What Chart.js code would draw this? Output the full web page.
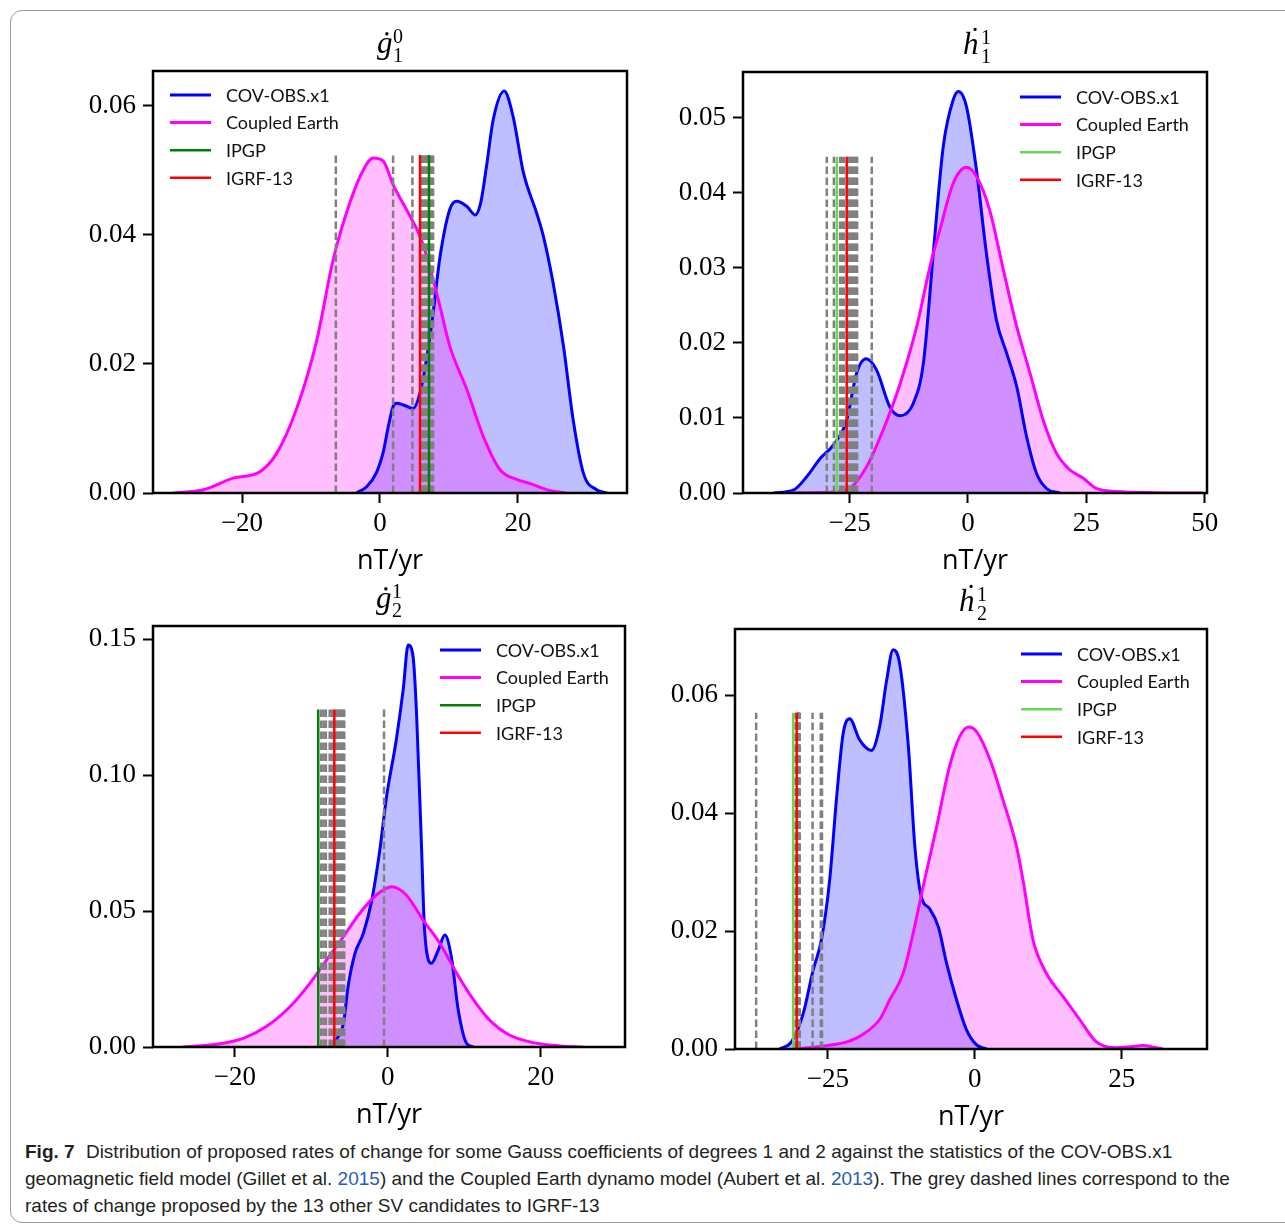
<!DOCTYPE html>
<html>
<head>
<meta charset="utf-8">
<script src="https://cdn.jsdelivr.net/npm/chart.js@4.4.1/dist/chart.umd.min.js"></script>
<style>
html,body{margin:0;padding:0;background:#fff;}
body{width:1285px;height:1225px;position:relative;overflow:hidden;}
.frame{position:absolute;left:10px;top:10px;width:1300px;height:1211px;border:1px solid #9a9a9a;border-radius:12px;}
canvas{position:absolute;}
.cap{position:absolute;left:25px;top:1138px;font-family:"Liberation Sans Narrow","Liberation Sans",sans-serif;font-size:19px;line-height:27px;color:#231f20;white-space:nowrap;}
.cap b{font-weight:bold;margin-right:6px;}
.cap a{color:#2a5db0;text-decoration:none;}
</style>
</head>
<body>
<div class="frame"></div>
<canvas id="c1" width="597" height="560" style="left:60px;top:20px"></canvas>
<canvas id="c2" width="587" height="559" style="left:650px;top:21px"></canvas>
<canvas id="c3" width="595" height="559" style="left:60px;top:575px"></canvas>
<canvas id="c4" width="595" height="558" style="left:642px;top:578px"></canvas>
<div class="cap">
<div><b>Fig. 7</b> Distribution of proposed rates of change for some Gauss coefficients of degrees 1 and 2 against the statistics of the COV-OBS.x1</div>
<div>geomagnetic field model (Gillet et al. <a>2015</a>) and the Coupled Earth dynamo model (Aubert et al. <a>2013</a>). The grey dashed lines correspond to the</div>
<div>rates of change proposed by the 13 other SV candidates to IGRF-13</div>
</div>
<script>
// legend labels
const legendLabels = ['COV-OBS.x1', 'Coupled Earth', 'IPGP', 'IGRF-13'];

// ---- g1^0 ----
const g10CovX = [-3.4, -1.9, -0.5, 0.5, 1.2, 1.9, 2.4, 3.5, 4.8, 5.8, 6.8, 7.7, 8.7, 10.1, 11.1, 12.6, 13.8, 14.6, 15.5, 16.4, 18, 19.3, 20.8, 22.7, 23.7, 25.1, 26.6, 28, 29.5, 31.4, 32.9];
const g10Cov  = [0, 0.001, 0.0032, 0.0065, 0.0103, 0.0134, 0.0139, 0.0136, 0.0131, 0.0155, 0.0211, 0.0279, 0.0366, 0.0439, 0.0452, 0.0444, 0.0431, 0.045, 0.0511, 0.0578, 0.0623, 0.0583, 0.0496, 0.0434, 0.0397, 0.0325, 0.0227, 0.0113, 0.003, 0.0005, 0];
const g10CplX = [-30, -25.6, -21.3, -17.4, -15, -12.1, -9.2, -6.8, -4.3, -2.4, -1.0, 0.5, 1.9, 4.3, 5.8, 6.8, 8.7, 10.1, 12.6, 15, 17.4, 19.8, 21.7, 24.6, 27];
const g10Cpl  = [0, 0.0005, 0.0023, 0.0033, 0.0061, 0.013, 0.0235, 0.0361, 0.0452, 0.0501, 0.0519, 0.0514, 0.0478, 0.043, 0.0398, 0.0366, 0.0289, 0.0228, 0.016, 0.0087, 0.0036, 0.0021, 0.0015, 0.0004, 0];
const g10Others = [-6.4, 1.9, 4.7, 5.9, 6.1, 6.3, 6.5, 6.6, 6.8, 7.0, 7.3, 7.5, 7.7];
const g10Ipgp = 7.1;
const g10Igrf = 5.8;
const g10LineTop = 0.0524;
const g10XTicks = [-20, 0, 20];
const g10YTicks = [0, 0.02, 0.04, 0.06];

// ---- h1^1 ----
const h11CovX = [-41, -36.8, -34, -31.2, -28.4, -25.6, -23.5, -21.5, -19.3, -16.5, -14.3, -11.5, -9.4, -7.3, -5.2, -3.1, -2.0, -0.3, 1.8, 3.9, 6.0, 8.2, 10.3, 12.4, 14.5, 16.6, 19.4];
const h11Cov  = [0, 0.0004, 0.0022, 0.0046, 0.0064, 0.0097, 0.016, 0.0179, 0.0164, 0.0115, 0.0103, 0.012, 0.0173, 0.032, 0.0462, 0.0524, 0.0535, 0.0515, 0.0431, 0.032, 0.0231, 0.0186, 0.0142, 0.0075, 0.0026, 0.0006, 0];
const h11CplX = [-37.5, -30.5, -25.6, -21.4, -17.9, -14.3, -10.8, -8.0, -5.9, -3.1, -0.3, 1.8, 4.6, 7.5, 10.3, 13.1, 15.9, 18.7, 21.5, 24.3, 27.1, 31.4, 39.8, 49.6];
const h11Cpl  = [0, 0.00005, 0.0004, 0.0035, 0.0084, 0.0146, 0.0222, 0.0302, 0.0351, 0.0413, 0.0434, 0.0422, 0.0377, 0.0297, 0.0222, 0.016, 0.0097, 0.0053, 0.0031, 0.002, 0.0006, 0.0002, 0.00005, 0];
const h11Others = [-29.8, -28.3, -27.0, -26.6, -26.2, -25.3, -25.0, -24.6, -24.3, -24.0, -23.7, -23.4, -20.3];
const h11Ipgp = -27.7;
const h11Igrf = -25.6;
const h11LineTop = 0.0448;
const h11XTicks = [-25, 0, 25, 50];
const h11YTicks = [0, 0.01, 0.02, 0.03, 0.04, 0.05];

// ---- g2^1 ----
const g21CovX = [-7.6, -6.5, -5.8, -5.2, -4.3, -3.2, -2.1, -1.05, -0.17, 1.1, 2.0, 2.66, 3.3, 3.75, 4.4, 4.8, 5.7, 6.6, 7.45, 8.3, 9.2, 10.3, 11.2];
const g21Cov  = [0, 0.0038, 0.0087, 0.0222, 0.0344, 0.0418, 0.054, 0.0724, 0.092, 0.1129, 0.1313, 0.1478, 0.1435, 0.1227, 0.0737, 0.043, 0.0308, 0.0357, 0.0412, 0.0332, 0.0136, 0.0013, 0];
const g21CplX = [-26.8, -22.4, -18.9, -15.9, -12.8, -10.2, -8.0, -5.8, -3.7, -1.5, 0.5, 2.4, 4.6, 6.8, 9.0, 11.2, 13.3, 15.9, 19.0, 22.5, 25.5];
const g21Cpl  = [0, 0.001, 0.0032, 0.0075, 0.0148, 0.0234, 0.032, 0.0406, 0.0491, 0.0559, 0.0589, 0.0559, 0.0467, 0.0381, 0.0271, 0.0173, 0.0099, 0.0044, 0.0016, 0.0004, 0];
const g21Others = [-8.7, -8.4, -8.1, -7.6, -7.3, -6.8, -6.6, -6.4, -6.2, -6.0, -5.9, -5.7, -0.5];
const g21Ipgp = -9.1;
const g21Igrf = -7.0;
const g21LineTop = 0.1241;
const g21XTicks = [-20, 0, 20];
const g21YTicks = [0, 0.05, 0.10, 0.15];

// ---- h2^1 ----
const h21CovX = [-33.2, -31.2, -29.2, -27.5, -26.1, -24.7, -23.5, -22.4, -21.3, -19.6, -17.6, -16.2, -15.0, -13.9, -12.8, -11.3, -10.2, -9.1, -7.7, -6.2, -4.8, -3.1, -1.4, 0.3, 2.0];
const h21Cov  = [0, 0.0012, 0.006, 0.0134, 0.0185, 0.0286, 0.0428, 0.0535, 0.056, 0.0524, 0.0506, 0.0546, 0.0625, 0.0677, 0.0654, 0.0512, 0.0343, 0.0258, 0.0238, 0.0207, 0.0145, 0.0083, 0.0032, 0.0007, 0];
const h21CplX = [-30.3, -25.8, -21.8, -19.0, -16.2, -14.5, -12.2, -10.5, -8.8, -6.5, -4.3, -2.6, -1.1, 0.3, 2.6, 4.8, 7.1, 8.2, 9.9, 12.2, 15.0, 17.9, 20.7, 24.1, 26.5, 28.6, 30.5, 32];
const h21Cpl  = [0, 0.0005, 0.0012, 0.0025, 0.005, 0.0083, 0.0128, 0.0196, 0.0275, 0.0377, 0.0479, 0.0529, 0.0546, 0.0538, 0.049, 0.0422, 0.0343, 0.0286, 0.0185, 0.0128, 0.0089, 0.0049, 0.0012, 0.0002, 0.0004, 0.0006, 0.0003, 0];
const h21Others = [-37.2, -30.5, -30.2, -30.1, -30.05, -30.0, -29.95, -29.9, -29.85, -29.8, -27.6, -26.2, -26.0];
const h21Ipgp = -30.9;
const h21Igrf = -30.3;
const h21LineTop = 0.057;
const h21XTicks = [-25, 0, 25];
const h21YTicks = [0, 0.02, 0.04, 0.06];

const SERIF = '"Liberation Serif", "DejaVu Serif", serif';
const pts = (xs, ys) => xs.map((x, i) => ({x: x, y: ys[i]}));
const minus = v => (v < 0 ? '\u2212' + Math.abs(v) : String(v));

const deco = {
  id: 'deco',
  afterDraw(chart, args, o) {
    const {ctx, chartArea: a} = chart;
    ctx.save();
    ctx.strokeStyle = '#000';
    ctx.lineWidth = 2.5;
    ctx.strokeRect(a.left, a.top, a.right - a.left, a.bottom - a.top);

    // title: dotted symbol with sup/sub
    const cx = (a.left + a.right) / 2;
    ctx.fillStyle = '#000';
    ctx.textAlign = 'left';
    ctx.textBaseline = 'alphabetic';
    ctx.font = 'italic 31px ' + SERIF;
    ctx.fillText(o.sym, cx + o.dx, a.top - 18);
    ctx.font = '20px ' + SERIF;
    ctx.fillText(o.sup, cx + o.sx, a.top - 28);
    ctx.fillText(o.sub, cx + o.sx, a.top - 9);

    // legend
    const lx = o.legendLeft != null ? a.left + o.legendLeft : a.right - o.legendRight;
    const cols = ['#0000ff', '#ff00ff', o.ipgpColor, '#ff0000'];
    const widths = [3, 3, 2.5, 2.5];
    ctx.font = '18px Lato, "Open Sans", sans-serif';
    ctx.textBaseline = 'middle';
    legendLabels.forEach((lab, i) => {
      const y = a.top + o.legendTop + i * 27.6;
      ctx.strokeStyle = cols[i];
      ctx.lineWidth = widths[i];
      ctx.beginPath();
      ctx.moveTo(lx, y);
      ctx.lineTo(lx + 41, y);
      ctx.stroke();
      ctx.fillStyle = '#111';
      ctx.fillText(lab, lx + 56, y + 1);
    });
    ctx.restore();
  }
};

function panel(id, d) {
  const vline = (x, color, w, dash) => ({
    data: [{x: x, y: 0}, {x: x, y: d.top}],
    borderColor: color, borderWidth: w, borderDash: dash || [],
    borderCapStyle: 'butt', pointRadius: 0, fill: false, tension: 0, order: 1
  });
  const datasets = [];
  datasets.push(vline(d.igrf, '#ff0000', 2.5));
  datasets.push(vline(d.ipgp, d.ipgpColor, 2.5));
  d.others.forEach(x => datasets.push(vline(x, '#808080', 2.5, [7.5, 3.5])));
  datasets.push({
    data: pts(d.cplX, d.cpl), borderColor: '#ff00ff', backgroundColor: 'rgba(255,0,255,0.25)',
    borderWidth: 3, fill: 'origin', pointRadius: 0, cubicInterpolationMode: 'monotone', order: 2
  });
  datasets.push({
    data: pts(d.covX, d.cov), borderColor: '#0000ff', backgroundColor: 'rgba(0,0,255,0.25)',
    borderWidth: 3, fill: 'origin', pointRadius: 0, cubicInterpolationMode: 'monotone', order: 3
  });

  new Chart(document.getElementById(id), {
    type: 'line',
    data: {datasets: datasets},
    plugins: [deco],
    options: {
      responsive: false,
      animation: false,
      parsing: false,
      layout: {padding: {left: 0, top: 51, right: 30, bottom: 0}},
      plugins: {
        legend: {display: false},
        tooltip: {enabled: false},
        filler: {drawTime: 'beforeDatasetsDraw'},
        deco: d.deco
      },
      scales: {
        x: {
          type: 'linear', min: d.xmin, max: d.xmax,
          afterFit: s => { s.height = 87; },
          afterBuildTicks: s => { s.ticks = d.xTicks.map(v => ({value: v})); },
          border: {display: false},
          grid: {drawOnChartArea: false, drawTicks: true, tickLength: 10, tickWidth: 2, tickColor: '#000'},
          ticks: {autoSkip: false, maxRotation: 0, padding: 5, color: '#000', font: {family: SERIF, size: 27}, callback: v => minus(v)},
          title: {display: true, text: 'nT/yr', color: '#000', font: {family: '"Open Sans", sans-serif', size: 27}, padding: {top: 0, bottom: 2}}
        },
        y: {
          type: 'linear', min: 0, max: d.ymax,
          afterFit: s => { s.width = 93; },
          afterBuildTicks: s => { s.ticks = d.yTicks.map(v => ({value: v})); },
          border: {display: false},
          grid: {drawOnChartArea: false, drawTicks: true, tickLength: 10, tickWidth: 2, tickColor: '#000'},
          ticks: {autoSkip: false, padding: 7, color: '#000', font: {family: SERIF, size: 27}, callback: v => v.toFixed(2)}
        }
      }
    }
  });
}

panel('c1', {
  covX: g10CovX, cov: g10Cov, cplX: g10CplX, cpl: g10Cpl, others: g10Others,
  ipgp: g10Ipgp, igrf: g10Igrf, top: g10LineTop, ipgpColor: '#008000',
  xmin: -32.9, xmax: 35.8, ymax: 0.0654, xTicks: g10XTicks, yTicks: g10YTicks,
  deco: {sym: '\u0121', sup: '0', sub: '1', dx: -13, sx: 3, legendLeft: 17, legendTop: 24, ipgpColor: '#008000'}
});
panel('c2', {
  covX: h11CovX, cov: h11Cov, cplX: h11CplX, cpl: h11Cpl, others: h11Others,
  ipgp: h11Ipgp, igrf: h11Igrf, top: h11LineTop, ipgpColor: '#66d855',
  xmin: -47.5, xmax: 50.5, ymax: 0.0561, xTicks: h11XTicks, yTicks: h11YTicks,
  deco: {sym: '\u1e23', sup: '1', sub: '1', dx: -12, sx: 6, legendRight: 187, legendTop: 25, ipgpColor: '#66d855'}
});
panel('c3', {
  covX: g21CovX, cov: g21Cov, cplX: g21CplX, cpl: g21Cpl, others: g21Others,
  ipgp: g21Ipgp, igrf: g21Igrf, top: g21LineTop, ipgpColor: '#008000',
  xmin: -30.7, xmax: 31.0, ymax: 0.1548, xTicks: g21XTicks, yTicks: g21YTicks,
  deco: {sym: '\u0121', sup: '1', sub: '2', dx: -13, sx: 3, legendRight: 185, legendTop: 24, ipgpColor: '#008000'}
});
panel('c4', {
  covX: h21CovX, cov: h21Cov, cplX: h21CplX, cpl: h21Cpl, others: h21Others,
  ipgp: h21Ipgp, igrf: h21Igrf, top: h21LineTop, ipgpColor: '#66d855',
  xmin: -40.8, xmax: 39.5, ymax: 0.0712, xTicks: h21XTicks, yTicks: h21YTicks,
  deco: {sym: '\u1e23', sup: '1', sub: '2', dx: -12, sx: 6, legendRight: 186, legendTop: 25, ipgpColor: '#66d855'}
});
</script>
</body>
</html>
